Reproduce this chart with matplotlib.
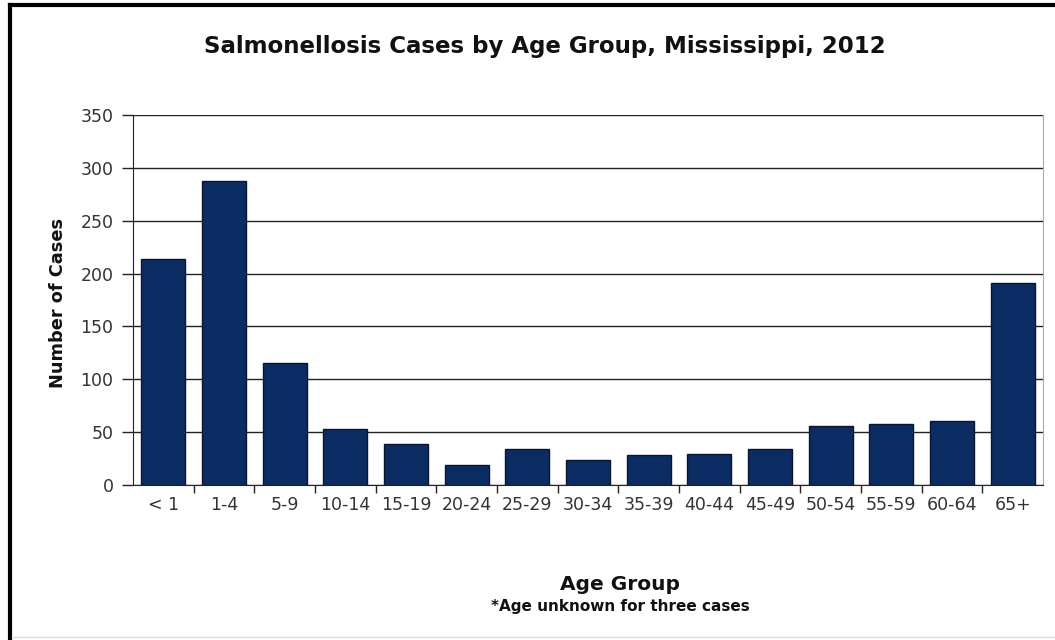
import matplotlib
matplotlib.use("Agg")
import matplotlib.pyplot as plt
from matplotlib.lines import Line2D

categories = ["< 1", "1-4", "5-9", "10-14", "15-19", "20-24", "25-29", "30-34",
              "35-39", "40-44", "45-49", "50-54", "55-59", "60-64", "65+"]
cases = [214, 288, 115, 53, 39, 19, 34, 24, 28, 29, 34, 56, 58, 61, 191]
y_ticks = [0, 50, 100, 150, 200, 250, 300, 350]

plt.rcParams['font.family'] = ['DejaVu Sans']

W, H = 1055, 640
fig = plt.figure(figsize=(W / 100, H / 100), dpi=100)
fig.patch.set_facecolor("white")

left, right, top, bottom = 133, 1043, 115, 485
ax = fig.add_axes([left / W, 1 - bottom / H, (right - left) / W, (bottom - top) / H])

x = list(range(len(categories)))
ax.bar(x, cases, width=0.72, color="#0c2c64", edgecolor="#0a1530", linewidth=1.0, zorder=3)

ax.set_xlim(-0.5, len(categories) - 0.5)
ax.set_ylim(0, 350)
ax.set_yticks(y_ticks)
ax.set_yticklabels([str(v) for v in y_ticks], fontsize=12.5, color="#333333")
ax.set_xticks(x)
ax.set_xticklabels(categories, fontsize=12.5, color="#333333")
ax.tick_params(axis="x", length=0, pad=8)
ax.tick_params(axis="y", length=8, width=1, direction="out", pad=6, color="#222222")
ax.set_xticks([i + 0.5 for i in range(len(categories) - 1)], minor=True)
ax.tick_params(axis="x", which="minor", length=6, width=1, direction="out", color="#222222")

ax.yaxis.grid(True, color="#222222", linewidth=1.0, zorder=0)
ax.set_axisbelow(True)
ax.spines["top"].set_visible(False)
ax.spines["right"].set_color("#aaaaaa")
ax.spines["left"].set_color("#222222")
ax.spines["bottom"].set_color("#222222")

fig.text(545 / W, 1 - 47 / H, "Salmonellosis Cases by Age Group, Mississippi, 2012",
         ha="center", va="center", fontsize=16.5, fontweight="bold", color="#111111")
fig.text(58 / W, 1 - 303 / H, "Number of Cases", rotation=90, ha="center", va="center",
         fontsize=12.8, fontweight="bold", color="#111111")
fig.text(620 / W, 1 - 585 / H, "Age Group", ha="center", va="center",
         fontsize=14.5, fontweight="bold", color="#111111")
fig.text(620 / W, 1 - 606 / H, "*Age unknown for three cases", ha="center", va="center",
         fontsize=11, fontweight="bold", color="#111111")

fig.add_artist(Line2D([10 / W, 10 / W], [0, 1 - 5 / H], color="black", linewidth=3, transform=fig.transFigure))
fig.add_artist(Line2D([10 / W, 1], [1 - 5 / H, 1 - 5 / H], color="black", linewidth=3, transform=fig.transFigure))
fig.add_artist(Line2D([12 / W, 1], [1 - 637 / H, 1 - 637 / H], color="#dddddd", linewidth=1, transform=fig.transFigure))

fig.savefig("out.png", dpi=100, facecolor="white")
